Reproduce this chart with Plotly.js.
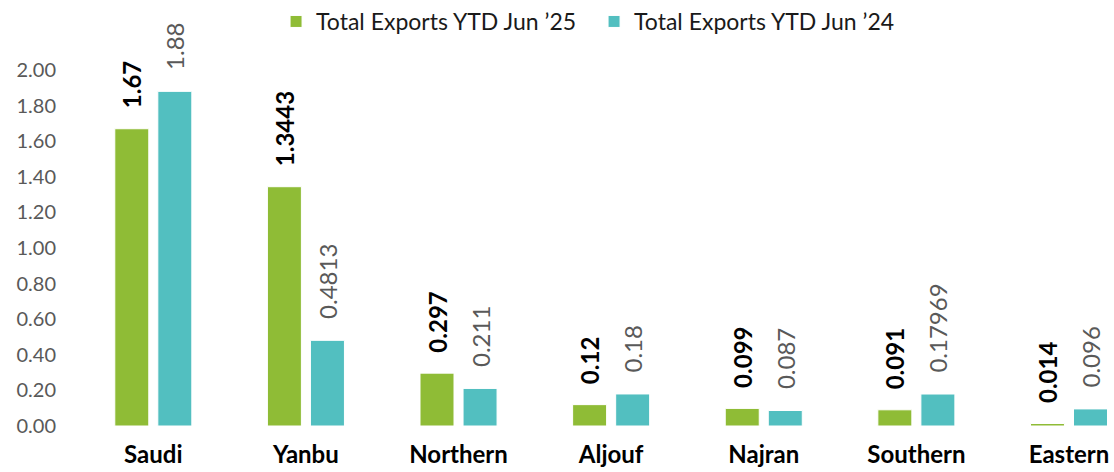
<!DOCTYPE html>
<html>
<head>
<meta charset="utf-8">
<script src="https://cdn.plot.ly/plotly-3.0.1.min.js"></script>
<style>html,body{margin:0;padding:0;background:#fff}#chart{width:1114px;height:472px}</style>
</head>
<body>
<div id="chart"></div>
<script>
const categories = ["Saudi", "Yanbu", "Northern", "Aljouf", "Najran", "Southern", "Eastern"];
const exports25 = [1.67, 1.3443, 0.297, 0.12, 0.099, 0.091, 0.014];
const exports24 = [1.88, 0.4813, 0.211, 0.18, 0.087, 0.17969, 0.096];
const seriesNames = ["Total Exports YTD Jun \u201925", "Total Exports YTD Jun \u201924"];
const yTicks = [0, 0.2, 0.4, 0.6, 0.8, 1.0, 1.2, 1.4, 1.6, 1.8, 2.0];

const FONT = "Lato, 'Open Sans', sans-serif";
const pad = "\u00A0\u00A0\u00A0";

const traces = [
  {
    type: "bar", name: seriesNames[0], x: categories, y: exports25,
    text: exports25.map(v => pad + String(v)),
    textposition: "outside", textangle: -90, constraintext: "none", cliponaxis: false,
    textfont: {family: FONT, size: 24, color: "#000000", weight: "bold"},
    marker: {color: "#8FBC36", line: {color: "#ffffff", width: 1}},
    hoverinfo: "x+y"
  },
  {
    type: "bar", name: seriesNames[1], x: categories, y: exports24,
    text: exports24.map(v => pad + String(v)),
    textposition: "outside", textangle: -90, constraintext: "none", cliponaxis: false,
    textfont: {family: FONT, size: 24, color: "#595959"},
    marker: {color: "#52BFC0", line: {color: "#ffffff", width: 1}},
    hoverinfo: "x+y"
  }
];

const layout = {
  width: 1114, height: 472,
  margin: {l: 77, r: 0, t: 70, b: 46, pad: 0},
  paper_bgcolor: "#ffffff", plot_bgcolor: "#ffffff",
  font: {family: FONT, color: "#595959"},
  barmode: "group", bargap: 0.436, bargroupgap: 0.21,
  showlegend: true,
  legend: {orientation: "h", x: 0.2478, xanchor: "left", xref: "container", y: 1.0, yanchor: "top", yref: "container",
           font: {family: FONT, size: 23, color: "#1a1a1a"}, itemwidth: 30, traceorder: "normal",
           entrywidth: 273, entrywidthmode: "pixels"},
  xaxis: {
    type: "category", range: [-0.5, 6.295], showgrid: false, zeroline: false, showline: false,
    ticks: "", ticklabelstandoff: 12,
    tickfont: {family: FONT, size: 24, color: "#000000", weight: "bold"}
  },
  yaxis: {
    range: [0, 2.0], showgrid: false, zeroline: false, showline: false, ticks: "",
    tickvals: yTicks, ticktext: yTicks.map(v => v.toFixed(2)),
    ticklabelstandoff: 20,
    tickfont: {family: FONT, size: 20, color: "#595959"}
  }
};

Plotly.newPlot("chart", traces, layout, {displayModeBar: false, staticPlot: true});
</script>
</body>
</html>
